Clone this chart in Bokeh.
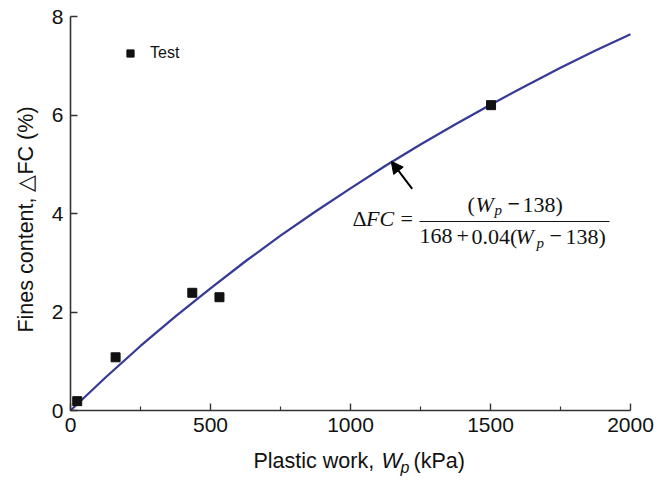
from bokeh.plotting import figure
from bokeh.models import (Range1d, FixedTicker, Label, Arrow, NormalHead,
                          Legend, LegendItem)
from bokeh.embed import file_html
from bokeh.resources import INLINE

# ---- data ----
wp_test = [24, 161, 435, 532, 1502]
fc_test = [0.19, 1.08, 2.39, 2.30, 6.20]

wp_fit = [0, 125, 250, 375, 500, 625, 750, 875, 1000, 1125, 1250, 1375,
          1500, 1625, 1750, 1875, 2000]
fc_fit = [0.0, 0.67, 1.31, 1.91, 2.48, 3.03, 3.55, 4.04, 4.51, 4.97, 5.40,
          5.81, 6.21, 6.59, 6.96, 7.31, 7.64]

x_ticks = [0, 500, 1000, 1500, 2000]
x_minor = [250, 750, 1250, 1750]
y_ticks = [0, 2, 4, 6, 8]

# ---- layout: canvas pixel -> data ----
W, H = 662, 479
X0, XS = 70.0, 560.0 / 2000.0     # px of x=0, px per unit
Y0, YS = 410.0, 394.0 / 8.0       # px of y=0, px per unit
def dx(px):
    return (px - X0) / XS
def dy(py):
    return (Y0 - py) / YS

p = figure(frame_width=W, frame_height=H,
           min_border_left=0, min_border_right=0, min_border_top=0, min_border_bottom=0,
           x_range=Range1d(dx(0), dx(W)), y_range=Range1d(dy(H), dy(0)),
           output_backend="svg", toolbar_location=None,
           background_fill_color="white", border_fill_color="white")
p.outline_line_color = None
p.grid.visible = False

axc = "#333333"
for ax in (p.xaxis[0], p.yaxis[0]):
    ax.fixed_location = 0
    ax.axis_line_color = axc
    ax.axis_line_width = 1.6
    ax.major_tick_line_color = axc
    ax.major_tick_line_width = 1.4
    ax.major_tick_in = 7
    ax.major_tick_out = 0
    ax.minor_tick_in = 4
    ax.minor_tick_out = 0
    ax.minor_tick_line_color = axc
    ax.minor_tick_line_width = 1.2
    ax.major_label_text_font = "Liberation Sans"
    ax.major_label_text_font_size = "21px"
    ax.major_label_text_color = "#111111"
    ax.axis_label = None

p.xaxis.ticker = FixedTicker(ticks=x_ticks, minor_ticks=x_minor)
p.yaxis.ticker = FixedTicker(ticks=y_ticks)
p.xaxis.bounds = (x_ticks[0], x_ticks[-1])
p.yaxis.bounds = (y_ticks[0], y_ticks[-1])
p.yaxis.minor_tick_line_color = None
p.xaxis.major_label_standoff = 7
p.yaxis.major_label_standoff = 7

# fitted curve
p.line(wp_fit, fc_fit, line_color="#363c96", line_width=2.3)

# test points
sq = p.scatter(wp_test, fc_test, marker="square", size=9,
               fill_color="#111111", line_color="#111111")

leg = Legend(items=[LegendItem(label="Test", renderers=[sq])],
             location=(121, H - 53 - 9), orientation="vertical",
             glyph_width=18, glyph_height=18, label_height=18,
             label_standoff=11, padding=0, margin=0, spacing=0,
             label_text_font="Liberation Sans", label_text_font_size="16px",
             label_text_color="#111111",
             background_fill_alpha=0, border_line_color=None)
p.add_layout(leg)

SHIFT = 0.41   # label baseline correction, in em

def lab(text, px, py, font="Liberation Sans", size=21.5, style="normal",
        rotated=False):
    if rotated:
        px = px - SHIFT * size
        ang, align = 1.5707963, "center"
    else:
        py = py - SHIFT * size
        ang, align = 0, "left"
    p.add_layout(Label(x=dx(px), y=dy(py), text=text, text_font=font,
                       text_font_size=f"{size}px", text_font_style=style,
                       text_color="#111111", angle=ang,
                       text_align=align, text_baseline="alphabetic"))

# x axis label
lab("Plastic work,", 253, 469)
lab("W", 381, 469, style="italic")
lab("p", 400, 474, size=16, style="italic")
lab("(kPa)", 413, 469)

# y axis label
lab("Fines content, \u25b3FC (%)", 34.5, 219, rotated=True)

# arrow
p.add_layout(Arrow(end=NormalHead(size=12, fill_color="black", line_color="black"),
                   x_start=dx(411.7), y_start=dy(188.3),
                   x_end=dx(390.7), y_end=dy(160.7),
                   line_color="black", line_width=2))

# equation
SERIF = "Liberation Serif"
lab("\u0394", 352, 227, font=SERIF, size=22)
lab("FC", 365.5, 227, font=SERIF, size=22, style="italic")
lab("=", 400, 227, font=SERIF, size=22)
# numerator
lab("(", 467, 213, font=SERIF, size=22)
lab("W", 475, 213, font=SERIF, size=22, style="italic")
lab("p", 494, 216, font=SERIF, size=15, style="italic")
lab("\u2212", 507, 213, font=SERIF, size=22, style="bold")
lab("138)", 522, 213, font=SERIF, size=22)
# fraction bar
p.segment(x0=[dx(419)], y0=[dy(221)], x1=[dx(609)], y1=[dy(221)],
          line_color="#111111", line_width=1.2)
# denominator
lab("168", 419, 245, font=SERIF, size=22)
lab("+", 456, 245, font=SERIF, size=22)
lab("0.04(", 471, 245, font=SERIF, size=22)
lab("W", 515, 245, font=SERIF, size=22, style="italic")
lab("p", 536, 249, font=SERIF, size=15, style="italic")
lab("\u2212", 549, 245, font=SERIF, size=22)
lab("138)", 565, 245, font=SERIF, size=22)

open("out.html", "w").write(file_html(p, INLINE))
